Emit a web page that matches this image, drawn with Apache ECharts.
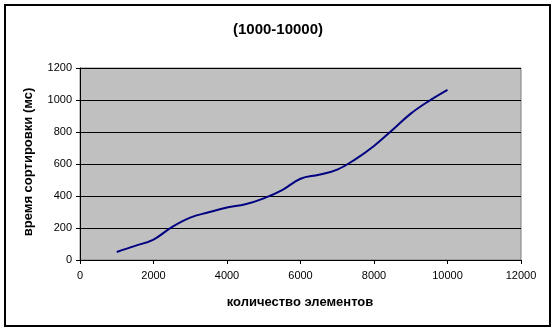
<!DOCTYPE html>
<html>
<head>
<meta charset="utf-8">
<script src="https://cdn.jsdelivr.net/npm/echarts@6/dist/echarts.min.js"></script>
<style>html,body{margin:0;padding:0;background:#fff}#c{width:556px;height:331px}</style>
</head>
<body>
<div id="c"></div>
<script>
const titleText = '(1000-10000)';
const xName = 'количество элементов';
const yName = 'время сортировки (мс)';
const xValues = [1000,1500,2000,2500,3000,3500,4000,4500,5000,5500,6000,6500,7000,7500,8000,8500,9000,9500,10000];
const yValues = [50,88,128,206,265,298,328,348,385,437,508,533,565,631,713,812,915,995,1064];

const chart = echarts.init(document.getElementById('c'), null, {renderer:'canvas'});
const font = '"Liberation Sans", Arial, sans-serif';
chart.setOption({
  animation:false,
  backgroundColor:'#fff',
  title:{text:titleText,left:'center',top:17,textStyle:{fontFamily:font,fontSize:15,fontWeight:'bold',color:'#000'}},
  grid:{left:80,right:35,top:68,bottom:71,show:true,backgroundColor:'#c0c0c0',borderColor:'#808080',borderWidth:1},
  xAxis:{type:'value',min:0,max:12000,interval:2000,
    axisLine:{show:true,onZero:false,lineStyle:{color:'#000',width:1}},
    axisTick:{show:true,length:4,lineStyle:{color:'#000'}},
    axisLabel:{color:'#000',fontFamily:font,fontSize:11,margin:10,formatter:v=>String(v)},
    splitLine:{show:false}},
  yAxis:{type:'value',min:0,max:1200,interval:200,
    axisLine:{show:true,lineStyle:{color:'#000',width:1}},
    axisTick:{show:true,length:4,lineStyle:{color:'#000'}},
    axisLabel:{color:'#000',fontFamily:font,fontSize:11,margin:8,formatter:v=>String(v)},
    splitLine:{show:true,lineStyle:{color:'#000',width:1}}},
  series:[{type:'line',data:xValues.map((x,i)=>[x,yValues[i]]),smooth:0.4,showSymbol:false,
    lineStyle:{color:'#000080',width:2}}],
  graphic:[
    {type:'rect',shape:{x:5,y:5,width:545,height:321},style:{fill:'none',stroke:'#000',lineWidth:2},z:100},
    {type:'text',x:300,y:302,style:{text:xName,font:'bold 13px '+font,fill:'#000',align:'center',verticalAlign:'middle'}},
    {type:'text',x:28,y:162,rotation:Math.PI/2,style:{text:yName,font:'bold 13px '+font,fill:'#000',align:'center',verticalAlign:'middle'}}
  ]
});
</script>
</body>
</html>
